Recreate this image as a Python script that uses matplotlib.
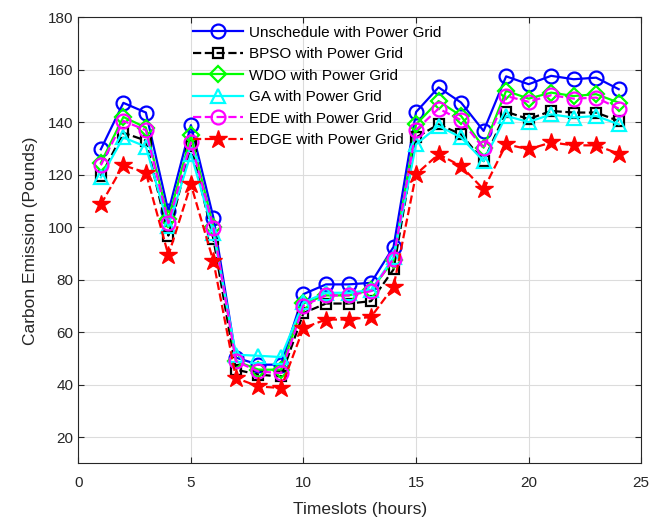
import numpy as np
import matplotlib
matplotlib.use("Agg")
from matplotlib import pyplot as plt

plt.rcParams['font.family'] = ['Liberation Sans', 'DejaVu Sans']

# hourly carbon emission for each scheduling method
hours = list(range(1, 25))
unschedule = [129.7, 147.4, 143.7, 106.0, 138.9, 103.6, 50.3, 47.6, 47.6, 74.5, 78.2, 78.2,
              78.8, 92.5, 143.9, 153.3, 147.5, 136.7, 157.5, 154.5, 157.7, 156.4, 157.0, 152.6]
bpso = [119.5, 136.0, 133.0, 96.8, 131.0, 95.5, 45.7, 43.8, 43.1, 67.3, 70.9, 70.9,
        71.8, 83.9, 134.2, 139.2, 135.4, 125.2, 144.0, 141.2, 144.3, 143.7, 143.7, 140.5]
wdo = [124.5, 142.0, 138.0, 103.0, 135.0, 100.0, 49.0, 45.7, 45.7, 71.0, 74.0, 74.0,
       76.0, 87.5, 139.2, 148.1, 142.4, 130.3, 152.0, 149.0, 151.3, 150.0, 150.7, 147.5]
ga = [119.0, 134.2, 130.7, 100.4, 128.0, 97.9, 51.4, 51.0, 50.5, 71.4, 75.0, 75.0,
      76.0, 88.5, 131.6, 138.6, 134.2, 125.2, 142.4, 140.1, 143.0, 141.8, 142.4, 139.2]
ede = [123.6, 140.5, 137.0, 101.5, 132.3, 99.8, 48.9, 45.0, 44.4, 70.1, 74.0, 74.0,
       75.6, 88.0, 137.1, 145.2, 140.8, 130.0, 150.0, 147.8, 150.3, 149.0, 149.4, 145.2]
edge = [108.7, 123.6, 120.8, 89.3, 116.3, 87.0, 42.5, 39.3, 38.7, 61.6, 64.8, 64.8,
        65.8, 77.3, 120.2, 127.8, 123.3, 114.4, 131.6, 129.7, 132.3, 131.2, 131.2, 128.0]

txt = '#262626'

fig = plt.figure(figsize=(6.49, 5.2), dpi=100)
ax = fig.add_axes([0.1207, 0.109, 0.8673, 0.8577])

lw = 1.6
ax.plot(hours, unschedule, '-o', color='#0000ff', lw=lw, ms=10, mfc='none', mew=lw,
        label='Unschedule with Power Grid')
ax.plot(hours, bpso, '--s', color='black', lw=lw, ms=7.5, mfc='none', mew=lw,
        label='BPSO with Power Grid')
ax.plot(hours, wdo, '-D', color='#00ff00', lw=lw, ms=8.5, mfc='none', mew=lw,
        label='WDO with Power Grid')
ax.plot(hours, ga, '-^', color='#00ffff', lw=lw, ms=10, mfc='none', mew=lw,
        label='GA with Power Grid')
ax.plot(hours, ede, '--o', color='#ff00ff', lw=lw, ms=10, mfc='none', mew=lw,
        label='EDE with Power Grid')
ax.plot(hours, edge, '--*', color='#ff0000', lw=lw, ms=13.5, mfc='#ff0000', mew=1,
        label='EDGE with Power Grid')

ax.set_xlim(0, 25)
ax.set_ylim(10, 180)
ax.set_xticks([0, 5, 10, 15, 20, 25])
ax.set_yticks(np.arange(20, 181, 20))
ax.grid(True, color='#dcdcdc', lw=0.8)
ax.set_axisbelow(True)
ax.tick_params(direction='in', top=True, right=True, labelsize=11, length=4,
               colors=txt, labelcolor=txt)
ax.tick_params(axis='x', pad=9)
for s in ax.spines.values():
    s.set_linewidth(0.8)
    s.set_color(txt)

ax.set_xlabel('Timeslots (hours)', fontsize=12.5, color=txt, labelpad=9)
ax.set_ylabel('Carbon Emission (Pounds)', fontsize=12.5, color=txt, labelpad=7)

leg = ax.legend(loc='upper left', bbox_to_anchor=(0.204, 0.981), frameon=False, fontsize=11,
                handlelength=3.25, handletextpad=0.4, labelspacing=0.49,
                borderpad=0, borderaxespad=0)
for t in leg.get_texts():
    t.set_color('black')

plt.savefig('out.png', dpi=100)
